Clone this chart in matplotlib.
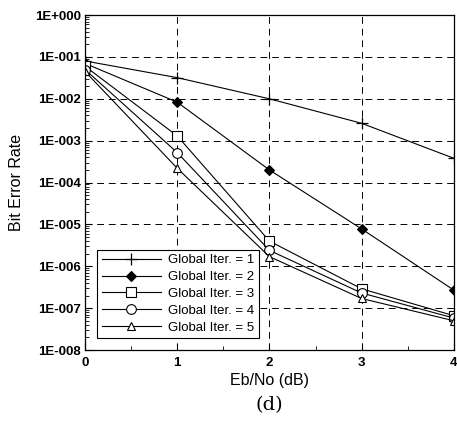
import matplotlib
matplotlib.use("Agg")
import matplotlib.pyplot as plt
from matplotlib.ticker import FixedLocator, LogLocator, NullFormatter, FixedFormatter

ebno = [0, 1, 2, 3, 4]
ber_iter1 = [8.0e-2, 3.2e-2, 1.0e-2, 2.6e-3, 3.8e-4]
ber_iter2 = [7.0e-2, 8.3e-3, 2.0e-4, 7.8e-6, 2.7e-7]
ber_iter3 = [6.0e-2, 1.3e-3, 4.0e-6, 2.9e-7, 6.6e-8]
ber_iter4 = [5.0e-2, 5.2e-4, 2.4e-6, 2.3e-7, 5.8e-8]
ber_iter5 = [4.5e-2, 2.2e-4, 1.7e-6, 1.7e-7, 5.0e-8]
labels = ["Global Iter. = 1", "Global Iter. = 2", "Global Iter. = 3",
          "Global Iter. = 4", "Global Iter. = 5"]
ytick_vals = [1e0, 1e-1, 1e-2, 1e-3, 1e-4, 1e-5, 1e-6, 1e-7, 1e-8]
ytick_labels = ["1E+000", "1E-001", "1E-002", "1E-003", "1E-004",
                "1E-005", "1E-006", "1E-007", "1E-008"]
xtick_labels = ["0", "1", "2", "3", "4"]

plt.rcParams['font.family'] = ['Liberation Sans', 'DejaVu Sans']

fig = plt.figure(figsize=(4.57, 4.30), dpi=100)
ax = fig.add_axes([0.186, 0.186, 0.807, 0.779])

series = [ber_iter1, ber_iter2, ber_iter3, ber_iter4, ber_iter5]
styles = [
    dict(marker='+', ms=8, mfc='black', mew=0.9),
    dict(marker='D', ms=5.5, mfc='black', mew=0.8),
    dict(marker='s', ms=7, mfc='white', mew=0.8),
    dict(marker='o', ms=7, mfc='white', mew=0.8),
    dict(marker='^', ms=6, mfc='white', mew=0.8),
]
for s, st, lab in zip(series, styles, labels):
    ax.plot(ebno, s, color='black', lw=0.8, mec='black', label=lab, **st)

ax.set_yscale('log')
ax.set_xlim(0, 4)
ax.set_ylim(1e-8, 1e0)
ax.yaxis.set_major_locator(FixedLocator(ytick_vals))
ax.yaxis.set_major_formatter(FixedFormatter(ytick_labels))
ax.yaxis.set_minor_locator(LogLocator(base=10, subs=range(2, 10), numticks=20))
ax.yaxis.set_minor_formatter(NullFormatter())
ax.set_xticks(ebno)
ax.set_xticklabels(xtick_labels)
ax.set_xticks([0.5, 1.5, 2.5, 3.5], minor=True)

ax.tick_params(axis='both', which='major', direction='in', length=5, width=0.8,
               labelsize=9.5, pad=3)
ax.tick_params(axis='x', which='major', pad=5)
ax.tick_params(axis='both', which='minor', direction='in', length=3, width=0.6)
for lab in ax.get_xticklabels() + ax.get_yticklabels():
    lab.set_fontweight('bold')

ax.grid(True, which='major', linestyle=(0, (7, 5)), color='black', lw=0.7)
for sp in ax.spines.values():
    sp.set_linewidth(0.9)

ax.set_xlabel("Eb/No (dB)", fontsize=11.5, labelpad=3)
ax.set_ylabel("Bit Error Rate", fontsize=11.5, labelpad=8)

leg = ax.legend(loc='lower left', bbox_to_anchor=(0.015, 0.015), fontsize=9.5,
                frameon=True, fancybox=False, edgecolor='black', framealpha=1,
                handlelength=4.5, borderpad=0.35, labelspacing=0.35,
                handletextpad=0.5)
leg.get_frame().set_linewidth(0.8)

fig.text(0.5 * (0.186 + 0.993), 0.058, "(d)", ha='center', va='center',
         fontsize=14, family='DejaVu Serif')

fig.savefig("out.png", dpi=100)
